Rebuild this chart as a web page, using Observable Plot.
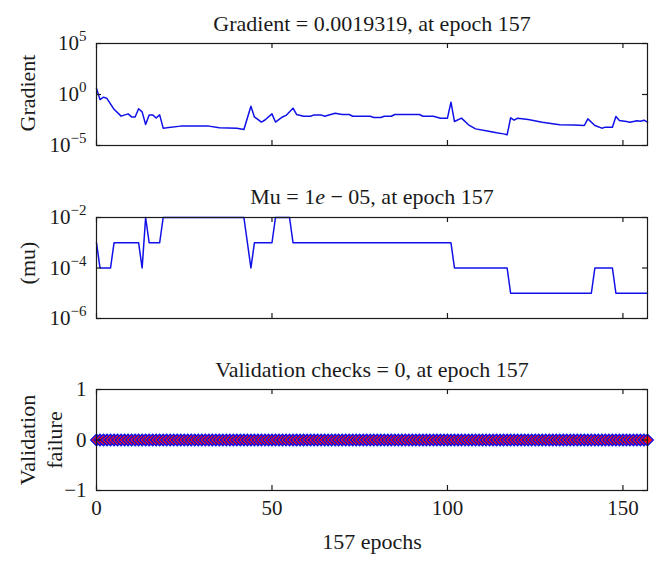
<!DOCTYPE html>
<html>
<head>
<meta charset="utf-8">
<script src="https://cdn.jsdelivr.net/npm/d3@7"></script>
<script src="https://cdn.jsdelivr.net/npm/@observablehq/plot@0.6"></script>
<style>
html, body { margin: 0; padding: 0; background: #fff; }
#chart { width: 664px; height: 567px; overflow: hidden; }
#chart svg { display: block; }
</style>
</head>
<body>
<div id="chart"></div>
<script>
// ---- data ----
const gradientEpochs = [0,1,2,3,5,7,9,10,11,12,13,14,15,16,17,18,19,20,24,32,35,40,42,44,45,47,48,50,51,53,54,56,57,59,61,62,64,65,68,70,72,73,78,79,81,82,84,85,92,93,96,98,100,101,102,104,106,108,111,114,116,117,118,119,120,123,127,132,136,139,140,142,144,145,147,148,149,151,152,154,155,156,157];
const gradientValues = [3.98,0.316,0.55,0.40,0.0355,0.00759,0.0126,0.00631,0.00631,0.0398,0.02,0.00115,0.01,0.01,0.005,0.01,0.0005,0.000537,0.000794,0.000794,0.000537,0.0005,0.000372,0.0708,0.00631,0.002,0.00316,0.0126,0.002,0.00631,0.00891,0.0457,0.011,0.00741,0.00741,0.01,0.01,0.00741,0.0148,0.011,0.011,0.00741,0.00741,0.00562,0.00562,0.00741,0.00741,0.011,0.011,0.00741,0.00741,0.00479,0.00479,0.178,0.00224,0.00479,0.00107,0.000427,0.000275,0.000174,0.000138,0.000112,0.00513,0.00302,0.00479,0.00355,0.00195,0.00107,0.001,0.000912,0.00407,0.000912,0.0005,0.000631,0.000631,0.00692,0.00282,0.00224,0.00195,0.00263,0.0024,0.00302,0.0019319];

const muEpochs = [0,1,4,5,12,13,14,15,18,19,42,43,44,45,50,51,55,56,101,102,117,118,141,142,147,148,157];
const muValues = [1e-3,1e-4,1e-4,1e-3,1e-3,1e-4,1e-2,1e-3,1e-3,1e-2,1e-2,1e-3,1e-4,1e-3,1e-3,1e-2,1e-2,1e-3,1e-3,1e-4,1e-4,1e-5,1e-5,1e-4,1e-4,1e-5,1e-5];

// validation failures for epochs 0..157
const validationFailures = [
  0,0,0,0,0,0,0,0,0,0,0,0,0,0,0,0,0,0,0,0,
  0,0,0,0,0,0,0,0,0,0,0,0,0,0,0,0,0,0,0,0,
  0,0,0,0,0,0,0,0,0,0,0,0,0,0,0,0,0,0,0,0,
  0,0,0,0,0,0,0,0,0,0,0,0,0,0,0,0,0,0,0,0,
  0,0,0,0,0,0,0,0,0,0,0,0,0,0,0,0,0,0,0,0,
  0,0,0,0,0,0,0,0,0,0,0,0,0,0,0,0,0,0,0,0,
  0,0,0,0,0,0,0,0,0,0,0,0,0,0,0,0,0,0,0,0,
  0,0,0,0,0,0,0,0,0,0,0,0,0,0,0,0,0,0
];

const xDomain = [0, 157];
const xTicks = [0, 50, 100, 150];
const gradientTicks = [1e-5, 1, 1e5];
const muTicks = [1e-6, 1e-4, 1e-2];
const validationTicks = [-1, 0, 1];
const titles = [
  "Gradient = 0.0019319, at epoch 157",
  "Mu = 1e − 05, at epoch 157",
  "Validation checks = 0, at epoch 157"
];
const yLabels = ["Gradient", "(mu)", "Validation\nfailure"];
const xLabel = "157 epochs";

// ---- layout / style ----
const W = 664, ML = 96, MR = 17;
const FONT = "'Liberation Serif', 'Times New Roman', serif";
const INK = "#1a1a1a";
const LINE = "#1010e8";
const TICK = 5;

const powLabel = d => "10^" + String(Math.round(Math.log10(d))).replace("-", "−");

function fixText(svg) {
  d3.select(svg).selectAll("text").each(function () {
    const t = this.textContent;
    const sel = d3.select(this);
    if (t.startsWith("10^")) {
      const [base, exp] = t.split("^");
      sel.text(null);
      sel.append("tspan").text(base);
      sel.append("tspan").attr("dy", -9).attr("font-size", 15).text(exp);
    } else {
      const m = t.match(/^(.*\d)(e)( − .*)$/);
      if (m) {
        sel.text(null);
        sel.append("tspan").text(m[1]);
        sel.append("tspan").attr("font-style", "italic").text(m[2]);
        sel.append("tspan").text(m[3]);
      }
    }
  });
}

function panel(o) {
  const innerW = W - ML - MR;
  const innerH = o.height - o.marginTop - o.marginBottom;
  const marks = [
    ...o.marks,
    Plot.frame({stroke: INK, strokeWidth: 1.2}),
    Plot.tickX(xTicks, {x: d => d, insetTop: innerH - TICK, stroke: INK, strokeWidth: 1.2}),
    Plot.tickX(xTicks, {x: d => d, insetBottom: innerH - TICK, stroke: INK, strokeWidth: 1.2}),
    Plot.tickY(o.yTicks, {y: d => d, insetRight: innerW - TICK, stroke: INK, strokeWidth: 1.2}),
    Plot.tickY(o.yTicks, {y: d => d, insetLeft: innerW - TICK, stroke: INK, strokeWidth: 1.2}),
    Plot.text(o.yTicks, {y: d => d, text: o.tickText, frameAnchor: "left", textAnchor: "end", lineAnchor: "middle", dx: -10, fontSize: 21, fill: INK}),
    Plot.text([o.title], {text: d => d, frameAnchor: "top", textAnchor: "middle", lineAnchor: "middle", dy: o.titleDy, fontSize: 22, fill: INK}),
    Plot.text([o.ylabel], {text: d => d, frameAnchor: "left", textAnchor: "middle", lineAnchor: "middle", rotate: -90, dx: o.ylabelDx, dy: o.ylabelDy, fontSize: 22, lineHeight: 1.21, fill: INK}),
    ...(o.extra || [])
  ];
  const svg = Plot.plot({
    width: W, height: o.height,
    marginLeft: ML, marginRight: MR, marginTop: o.marginTop, marginBottom: o.marginBottom,
    x: {domain: xDomain, axis: null},
    y: {...o.y, axis: null},
    style: {fontFamily: FONT, background: "white", color: INK, overflow: "visible"},
    marks
  });
  fixText(svg);
  return svg;
}

const chart = document.getElementById("chart");

chart.appendChild(panel({
  height: 170, marginTop: 43, marginBottom: 25,
  y: {type: "log", domain: [1e-5, 1e5]},
  yTicks: gradientTicks, tickText: powLabel,
  title: titles[0], titleDy: -20,
  ylabel: yLabels[0], ylabelDx: -70, ylabelDy: -1.5,
  marks: [
    Plot.line(gradientEpochs, {x: d => d, y: (d, i) => gradientValues[i], stroke: LINE, strokeWidth: 1.5})
  ]
}));

chart.appendChild(panel({
  height: 175, marginTop: 47, marginBottom: 27,
  y: {type: "log", domain: [1e-6, 1e-2]},
  yTicks: muTicks, tickText: powLabel,
  title: titles[1], titleDy: -21,
  ylabel: yLabels[1], ylabelDx: -70, ylabelDy: -5,
  marks: [
    Plot.line(muEpochs, {x: d => d, y: (d, i) => muValues[i], stroke: LINE, strokeWidth: 1.5})
  ]
}));

chart.appendChild(panel({
  height: 222, marginTop: 44, marginBottom: 77,
  y: {type: "linear", domain: [-1, 1]},
  yTicks: validationTicks, tickText: d => d === 0 ? "0" : (d < 0 ? "−" + Math.abs(d) : String(d)),
  title: titles[2], titleDy: -19.5,
  ylabel: yLabels[2], ylabelDx: -56.5, ylabelDy: 0,
  marks: [
    Plot.line(validationFailures, {x: (d, i) => i, y: d => d, stroke: LINE, strokeWidth: 1.5}),
    Plot.dot(validationFailures, {x: (d, i) => i, y: d => d, symbol: "diamond2", r: 5.2, fill: "#ff1010", stroke: "#1010e8", strokeWidth: 1.4})
  ],
  extra: [
    Plot.text(xTicks, {x: d => d, text: d => String(d), frameAnchor: "bottom", textAnchor: "middle", lineAnchor: "middle", dy: 18, fontSize: 21, fill: INK}),
    Plot.text([xLabel], {text: d => d, frameAnchor: "bottom", textAnchor: "middle", lineAnchor: "middle", dy: 51, fontSize: 22, fill: INK})
  ]
}));
</script>
</body>
</html>
